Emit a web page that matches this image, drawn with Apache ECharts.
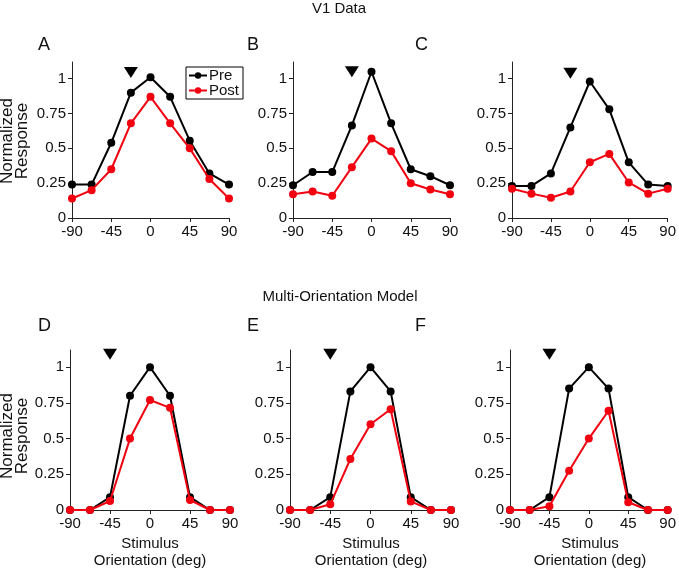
<!DOCTYPE html>
<html>
<head>
<meta charset="utf-8">
<script src="https://cdn.jsdelivr.net/npm/echarts@6/dist/echarts.min.js"></script>
<style>html,body{margin:0;padding:0;background:#fff}#c{width:679px;height:570px}</style>
</head>
<body>
<div id="c"></div>
<script>
const orientations = [-90, -67.5, -45, -22.5, 0, 22.5, 45, 67.5, 90];
const xTicks = [-90, -45, 0, 45, 90];
const yTicks = [0, 0.25, 0.5, 0.75, 1];

const preA  = [0.24, 0.24, 0.54, 0.90, 1.01, 0.87, 0.555, 0.32, 0.24];
const postA = [0.14, 0.20, 0.35, 0.68, 0.87, 0.68, 0.50, 0.28, 0.14];
const preB  = [0.235, 0.33, 0.33, 0.665, 1.05, 0.68, 0.35, 0.30, 0.235];
const postB = [0.17, 0.19, 0.16, 0.365, 0.57, 0.48, 0.25, 0.205, 0.17];
const preC  = [0.23, 0.23, 0.32, 0.65, 0.98, 0.78, 0.40, 0.24, 0.23];
const postC = [0.21, 0.175, 0.145, 0.19, 0.40, 0.46, 0.255, 0.175, 0.21];
const preD  = [0, 0, 0.09, 0.80, 1.0, 0.80, 0.09, 0, 0];
const postD = [0, 0, 0.063, 0.50, 0.77, 0.715, 0.07, 0, 0];
const preE  = [0, 0, 0.09, 0.83, 1.0, 0.83, 0.09, 0, 0];
const postE = [0, 0, 0.04, 0.357, 0.60, 0.705, 0.06, 0, 0];
const preF  = [0, 0, 0.09, 0.85, 1.0, 0.85, 0.09, 0, 0];
const postF = [0, 0, 0.026, 0.275, 0.50, 0.695, 0.054, 0, 0];

const adaptX = [-22.5, -22.5, -22.5, -45, -45, -45];
const adaptY = [1.045, 1.05, 1.04, 1.09, 1.09, 1.09];

const panelLetters = ['A', 'B', 'C', 'D', 'E', 'F'];
const sectionTitles = ['V1 Data', 'Multi-Orientation Model'];

const pres = [preA, preB, preC, preD, preE, preF];
const posts = [postA, postB, postC, postD, postE, postF];

const grids = [
  {left: 72, top: 62, width: 157, height: 156},
  {left: 293, top: 62, width: 157, height: 156},
  {left: 512, top: 62, width: 158, height: 156},
  {left: 70, top: 350, width: 160, height: 160},
  {left: 290, top: 350, width: 161, height: 160},
  {left: 510, top: 350, width: 160, height: 160}
];

const FONT = '"Liberation Sans", Arial, Helvetica, sans-serif';
const axisColor = '#222';

const xAxes = [], yAxes = [], series = [];
for (let i = 0; i < 6; i++) {
  xAxes.push({
    type: 'value', gridIndex: i, min: -90, max: 90, interval: 45,
    axisLine: {show: true, onZero: false, lineStyle: {color: axisColor, width: 1}},
    axisTick: {show: true, length: 4, lineStyle: {color: axisColor}},
    axisLabel: {color: '#111', fontSize: 15, fontFamily: FONT, margin: 6},
    splitLine: {show: false}
  });
  yAxes.push({
    type: 'value', gridIndex: i, min: 0, max: 1.12,
    axisLine: {show: true, onZero: false, lineStyle: {color: axisColor, width: 1}},
    axisTick: {show: true, length: 4, customValues: yTicks, lineStyle: {color: axisColor}},
    axisLabel: {color: '#111', fontSize: 15, fontFamily: FONT, margin: 6, customValues: yTicks,
      formatter: v => String(v)},
    splitLine: {show: false}
  });
  series.push({
    name: 'Pre', type: 'line', xAxisIndex: i, yAxisIndex: i,
    data: orientations.map((x, k) => [x, pres[i][k]]),
    symbol: 'circle', symbolSize: 8,
    lineStyle: {color: '#000', width: 2}, itemStyle: {color: '#000'},
    animation: false, z: 2
  });
  series.push({
    name: 'Post', type: 'line', xAxisIndex: i, yAxisIndex: i,
    data: orientations.map((x, k) => [x, posts[i][k]]),
    symbol: 'circle', symbolSize: 8,
    lineStyle: {color: '#f2000f', width: 2}, itemStyle: {color: '#f2000f'},
    animation: false, z: 3
  });
  series.push({
    name: 'adapt' + i, type: 'scatter', xAxisIndex: i, yAxisIndex: i,
    data: [[adaptX[i], adaptY[i]]],
    symbol: 'triangle', symbolRotate: 180, symbolSize: [14, 11],
    itemStyle: {color: '#000', opacity: 1}, animation: false, z: 4
  });
}

const graphics = [];
graphics.push({type: 'text', x: 339, y: 1, style: {text: sectionTitles[0], font: '15px ' + FONT, fill: '#111', textAlign: 'center'}});
graphics.push({type: 'text', x: 340, y: 289, style: {text: sectionTitles[1], font: '15px ' + FONT, fill: '#111', textAlign: 'center'}});
const letterPos = [[38, 36], [247, 36], [415, 36], [38, 317], [247, 317], [415, 317]];
for (let i = 0; i < 6; i++) {
  graphics.push({type: 'text', x: letterPos[i][0], y: letterPos[i][1], style: {text: panelLetters[i], font: '18px ' + FONT, fill: '#111'}});
}
[141, 436].forEach(cy => {
  graphics.push({type: 'text', x: 15, y: cy, rotation: Math.PI / 2,
    style: {text: 'Normalized\nResponse', font: '17px ' + FONT, fill: '#111', textAlign: 'center', textVerticalAlign: 'middle', lineHeight: 15}});
});
[150, 371, 590].forEach(cx => {
  graphics.push({type: 'text', x: cx, y: 535,
    style: {text: 'Stimulus\nOrientation (deg)', font: '15px ' + FONT, fill: '#111', textAlign: 'center', textVerticalAlign: 'top', lineHeight: 17}});
});

const chart = echarts.init(document.getElementById('c'), null, {renderer: 'canvas'});
chart.setOption({
  animation: false,
  backgroundColor: '#fff',
  grid: grids,
  xAxis: xAxes,
  yAxis: yAxes,
  series: series,
  legend: {
    data: ['Pre', 'Post'], orient: 'vertical', left: 186, top: 67,
    itemWidth: 18, itemHeight: 8, itemGap: 0,
    borderColor: '#000', borderWidth: 1, borderRadius: 0, padding: [1, 4, 1, 2],
    textStyle: {fontSize: 15, fontFamily: FONT, color: '#111', lineHeight: 14, padding: [0, 0, 0, -3]},
    selectedMode: false
  },
  graphic: graphics
});
</script>
</body>
</html>
